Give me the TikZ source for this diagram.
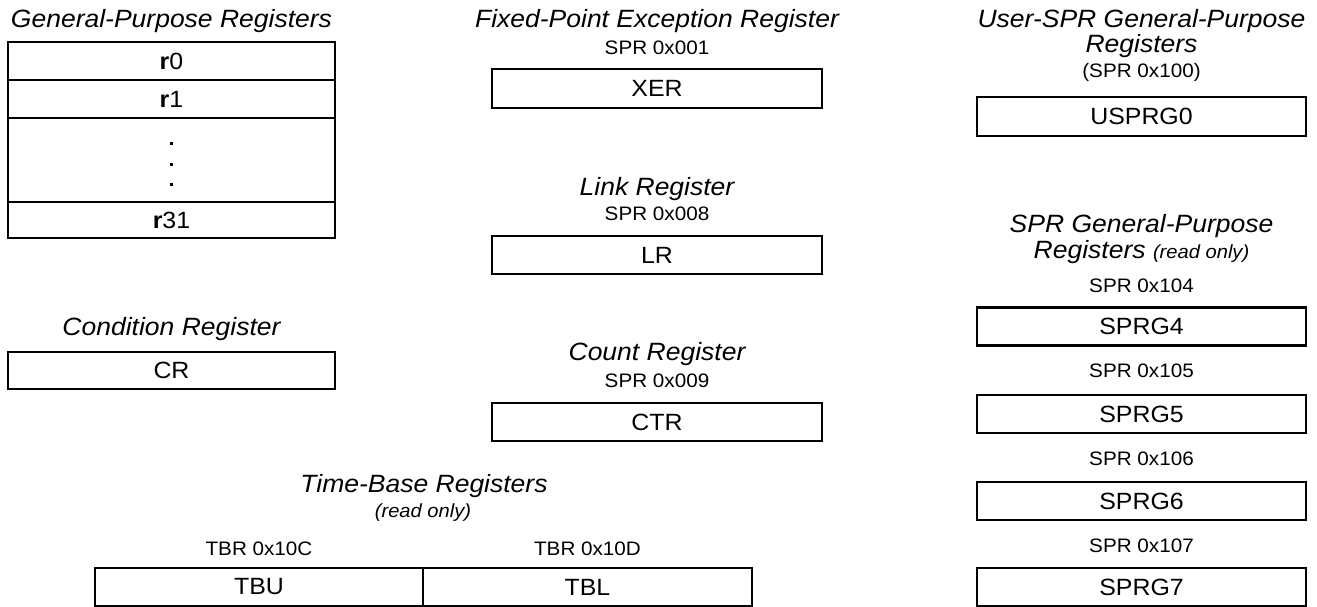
\documentclass[tikz,border=0pt]{standalone}
\usepackage{fontspec}
\setmainfont{Liberation Sans}[FakeStretch=1.06]
\begin{document}
\begin{tikzpicture}[x=1pt,y=-1pt,
  reg/.style={draw,line width=2.6pt,minimum width=330pt,minimum height=38pt,inner sep=0pt,font=\fontsize{23.5}{26}\selectfont},
  title/.style={anchor=base,inner sep=0pt,font=\itshape\fontsize{25}{28}\selectfont},
  addr/.style={anchor=base,inner sep=0pt,font=\fontsize{19.5}{22}\selectfont},
  note/.style={anchor=base,inner sep=0pt,font=\itshape\fontsize{19}{22}\selectfont}]
 \useasboundingbox (0,0) rectangle (1317,607);
 % general-purpose registers
 \node[title] (gprtitle) at (171.5,27.5) {General-Purpose Registers};
 \node[reg,minimum width=327pt] (r0) at (171.5,61) {\textbf{r}0};
 \node[reg,minimum width=327pt] (r1) at (171.5,99) {\textbf{r}1};
 \node[reg,minimum width=327pt,minimum height=84pt] (rgap) at (171.5,160) {};
 \node[reg,minimum width=327pt,minimum height=36pt] (r31) at (171.5,220) {\textbf{r}31};
 \foreach \y in {142.5,162.5,182.5}
  \fill (170,\y) rectangle ++(3,3);
 % condition register
 \node[title] (crtitle) at (171.5,335) {Condition Register};
 \node[reg,minimum width=327pt,minimum height=37pt] (cr) at (171.5,370.5) {CR};
 % fixed-point exception, link and count registers
 \node[title] (xertitle) at (657,27.5) {Fixed-Point Exception Register};
 \node[addr] (xeraddr) at (657,55) {SPR 0x001};
 \node[reg,minimum height=39pt] (xer) at (657,88.5) {XER};
 \node[title] (lrtitle) at (657,195) {Link Register};
 \node[addr] (lraddr) at (657,220) {SPR 0x008};
 \node[reg] (lr) at (657,255) {LR};
 \node[title] (ctrtitle) at (657,360) {Count Register};
 \node[addr] (ctraddr) at (657,387) {SPR 0x009};
 \node[reg] (ctr) at (657,422) {CTR};
 % time-base registers
 \node[title] (tbtitle) at (424,492) {Time-Base Registers};
 \node[note] (tbnote) at (423,517) {(read only)};
 \node[addr] (tbuaddr) at (259,555) {TBR 0x10C};
 \node[addr] (tbladdr) at (587.5,555) {TBR 0x10D};
 \node[reg,minimum width=328pt] (tbu) at (259,587) {TBU};
 \node[reg,minimum width=329pt] (tbl) at (587.5,587) {TBL};
 % user-SPR general-purpose register
 \node[title] (usrtitle) at (1141.5,27.5) {User-SPR General-Purpose};
 \node[title] (usrtitleb) at (1141.5,53) {Registers};
 \node[addr] (usraddr) at (1141.5,78) {(SPR 0x100)};
 \node[reg,minimum width=329pt,minimum height=39pt] (usprg0) at (1141.5,116.5) {USPRG0};
 % SPR general-purpose registers
 \node[title] (sprgtitle) at (1141.5,232) {SPR General-Purpose};
 \node[title] (sprgtitleb) at (1141.5,258) {Registers {\fontsize{19}{22}\selectfont(read only)}};
 \foreach \n/\y/\b in {4/326.5/292,5/414/377,6/501/465,7/587/552}{
  \node[addr] (sprgaddr\n) at (1141.5,\b) {SPR 0x10\n};
  \node[reg,minimum width=329pt] (sprg\n) at (1141.5,\y) {SPRG\n};
 }
\end{tikzpicture}
\end{document}
